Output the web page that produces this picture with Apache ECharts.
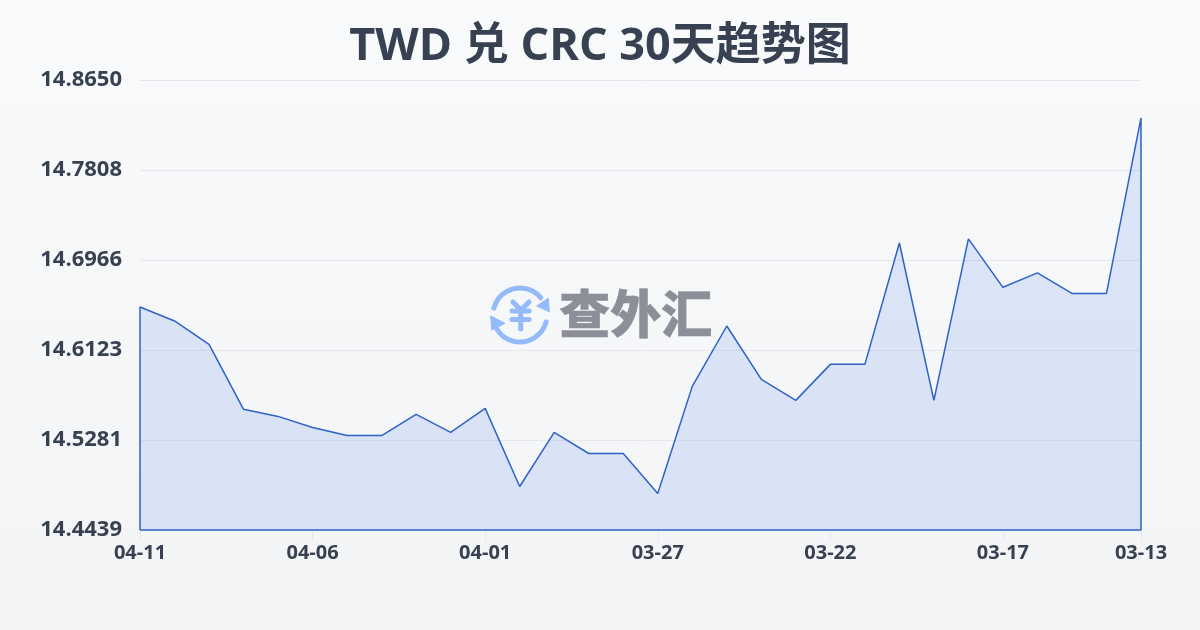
<!DOCTYPE html>
<html><head><meta charset="utf-8">
<script src="https://cdn.jsdelivr.net/npm/echarts@6/dist/echarts.min.js"></script>
<style>html,body{margin:0;padding:0;background:#f5f7fa}#c{width:1200px;height:630px}</style>
</head><body><div id="c"></div>
<script>
const titleText = 'TWD 兑 CRC 30天趋势图';
const dates = ['04-11','04-10','04-09','04-08','04-07','04-06','04-05','04-04','04-03','04-02','04-01','03-31','03-30','03-29','03-28','03-27','03-26','03-25','03-24','03-23','03-22','03-21','03-20','03-19','03-18','03-17','03-16','03-15','03-14','03-13'];
const rates = [14.6526,14.6395,14.6176,14.5568,14.5502,14.5399,14.5323,14.5323,14.5521,14.5352,14.5577,14.4846,14.5352,14.5155,14.5155,14.4781,14.5783,14.6348,14.5848,14.5652,14.5989,14.5989,14.7125,14.5652,14.7163,14.6710,14.6845,14.6653,14.6653,14.8295];
const yTicks = [14.4439,14.5281,14.6123,14.6966,14.7808,14.8650];
const xTickIndex = [0,5,10,15,20,25,29];
const brand = '查外汇';

const FONT = '"Open Sans","Noto Sans CJK SC",sans-serif';
const yMin = yTicks[0], yMax = yTicks[yTicks.length-1];
const outline = [[0,yMin]].concat(rates.map((v,i)=>[i,v]),[[rates.length-1,yMin],[0,yMin]]);
const chart = echarts.init(document.getElementById('c'),null,{renderer:'canvas'});
const iconColor='#93bbf9';
const cx=520,cy=315,r=27;
const stroke=(extra)=>({stroke:iconColor,lineWidth:5,fill:null,lineCap:'round',lineJoin:'round',...extra});
chart.setOption({
  animation:false,
  backgroundColor:new echarts.graphic.LinearGradient(0,0,0,1,[{offset:0,color:'#f8fafc'},{offset:1,color:'#f3f4f6'}]),
  title:{text:titleText,left:'center',top:20,textStyle:{fontFamily:FONT,fontSize:45,fontWeight:700,color:'#374151'}},
  grid:{left:140,right:59,top:80,bottom:100,containLabel:false},
  graphic:[
    {type:'arc',z:0,shape:{cx,cy,r,startAngle:-2.88,endAngle:-0.69},style:stroke()},
    {type:'arc',z:0,shape:{cx,cy,r,startAngle:0.26,endAngle:2.6},style:stroke()},
    {type:'polygon',z:0,shape:{points:[[548.3,298.3],[549.3,311.7],[536.7,306]]},style:{fill:iconColor,stroke:iconColor,lineWidth:1,lineJoin:'round'}},
    {type:'polygon',z:0,shape:{points:[[490.7,316],[505,323.3],[491.7,330]]},style:{fill:iconColor,stroke:iconColor,lineWidth:1,lineJoin:'round'}},
    {type:'polyline',z:0,shape:{points:[[513,302],[521,310],[529,302]]},style:stroke()},
    {type:'line',z:0,shape:{x1:512,y1:311,x2:529,y2:311},style:stroke()},
    {type:'line',z:0,shape:{x1:512,y1:319.5,x2:529,y2:319.5},style:stroke()},
    {type:'line',z:0,shape:{x1:520.7,y1:310,x2:520.7,y2:329},style:stroke()},
    {type:'text',z:0,left:559,top:288,style:{text:brand,fontFamily:'"Noto Sans CJK SC",sans-serif',fontSize:51,fontWeight:900,fill:'#8a8f98',stroke:'#8a8f98',lineWidth:0.5}}
  ],
  xAxis:{type:'category',data:dates,boundaryGap:false,
    axisLine:{show:false},
    axisTick:{show:true,length:11,interval:(i)=>xTickIndex.includes(i),lineStyle:{color:'#e5e7eb',width:1}},
    axisLabel:{interval:(i)=>xTickIndex.includes(i),margin:13,fontFamily:FONT,fontSize:20,fontWeight:700,color:'#374151',hideOverlap:false,showMinLabel:true,showMaxLabel:true},
    splitLine:{show:false}},
  yAxis:{type:'value',min:yMin,max:yMax,
    axisLine:{show:false},
    axisTick:{show:false,customValues:yTicks},
    axisLabel:{customValues:yTicks,formatter:(v)=>v.toFixed(4),margin:18,fontFamily:FONT,fontSize:22,fontWeight:700,color:'#374151',verticalAlign:'middle',lineHeight:26,padding:[0,0,4,0]},
    splitLine:{show:true,lineStyle:{color:'#e5e7eb',width:1}}},
  series:[{type:'line',data:outline,symbol:'none',smooth:false,z:3,clip:false,
    lineStyle:{color:'#2f62c9',width:1.5},
    areaStyle:{color:'rgba(37,99,235,0.13)',opacity:1,origin:'start'}}]
});
</script></body></html>
